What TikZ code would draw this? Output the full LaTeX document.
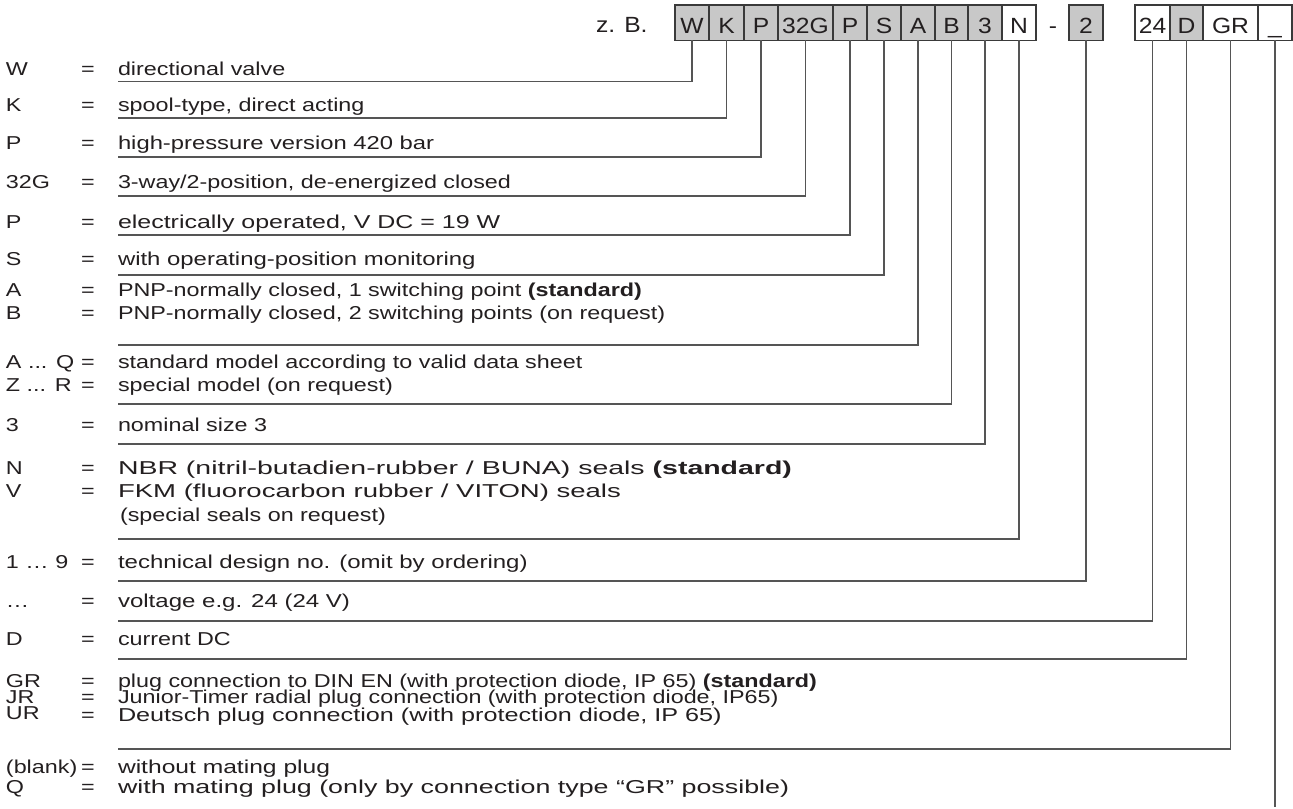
\documentclass[tikz,border=0pt]{standalone}
\usepackage{graphicx}
\usepackage{fontspec}
\setmainfont{Liberation Sans}[FakeStretch=1.25]
\newfontfamily\hdr{Liberation Sans}[FakeStretch=1.12]
\definecolor{txt}{HTML}{231F20}
\definecolor{lnc}{HTML}{555555}
\definecolor{bxc}{HTML}{3A3A3A}
\definecolor{gfill}{HTML}{C8C8C8}
\newcommand\myrow[5][1]{%
  \node[lbl] (l#2) at (6,#3) {#4};
  \node[lbl] (e#2) at (81,#3) {=};
  \node[lbl] (t#2) at (118,#3) {\scalebox{#1}[1]{#5}};}
\begin{document}
\begin{tikzpicture}[x=0.75pt,y=-0.75pt,
  every node/.style={inner sep=0pt,outer sep=0pt,text=txt},
  lbl/.style={anchor=base west,font=\fontsize{14}{16}\selectfont},
  hd/.style={font=\hdr\fontsize{16.5}{19}\selectfont},
  box/.style={hd,draw=bxc,line width=0.9pt,minimum height=26.6pt,
    text height=15.4pt,text depth=0pt,fill=white},
  gbox/.style={box,fill=gfill},
  conn/.style={draw=lnc,line width=1pt}]
\useasboundingbox (0,0) rectangle (1293,808);
% header
\node[hd,anchor=base west] (zb) at (596,32) {z. B.};
\node[gbox,minimum width=25.5pt]  (b1)  at (692,22.75)    {W};
\node[gbox,minimum width=26.25pt] (b2)  at (726.5,22.75)  {K};
\node[gbox,minimum width=25.5pt]  (b3)  at (761,22.75)    {P};
\node[gbox,minimum width=41.25pt] (b4)  at (805.5,22.75)  {32G};
\node[gbox,minimum width=25.5pt]  (b5)  at (850,22.75)    {P};
\node[gbox,minimum width=25.5pt]  (b6)  at (884,22.75)    {S};
\node[gbox,minimum width=25.5pt]  (b7)  at (918,22.75)    {A};
\node[gbox,minimum width=24.75pt] (b8)  at (951.5,22.75)  {B};
\node[gbox,minimum width=25.5pt]  (b9)  at (985,22.75)    {3};
\node[box,minimum width=25.5pt]   (b10) at (1019,22.75)   {N};
\node[hd,anchor=base] (dash) at (1053,33) {-};
\node[gbox,minimum width=25.5pt]  (b11) at (1086,22.75)   {2};
\node[box,minimum width=26.25pt]  (b12) at (1152.5,22.75) {24};
\node[gbox,minimum width=24.75pt] (b13) at (1186.5,22.75) {D};
\node[box,minimum width=41.25pt]  (b14) at (1230.5,22.75) {GR};
\node[box,minimum width=25.5pt]   (b15) at (1275,22.75)   {\textunderscore};
% rows (baseline = visual centre + 6.5)
\myrow{1}{75}{W}{directional valve}
\myrow{2}{111.5}{K}{spool-type, direct acting}
\myrow[1.02]{3}{149.5}{P}{high-pressure version 420 bar}
\myrow{4}{188.5}{32G}{3-way/2-position, de-energized closed}
\myrow[1.07]{5}{228}{P}{electrically operated, V DC = 19 W}
\myrow[1.025]{6}{265}{S}{with operating-position monitoring}
\myrow{7}{296.5}{A}{PNP-normally closed, 1 switching point \textbf{(standard)}}
\myrow{8}{319.5}{B}{PNP-normally closed, 2 switching points (on request)}
\myrow{9}{368.5}{A ... Q}{standard model according to valid data sheet}
\myrow{10}{391.5}{Z ... R}{special model (on request)}
\myrow{11}{431.5}{3}{nominal size 3}
\myrow[1.22]{12}{474.5}{N}{NBR (nitril-butadien-rubber / BUNA) seals \textbf{(standard)}}
\myrow[1.18]{13}{497.5}{V}{FKM (fluorocarbon rubber / VITON) seals}
\node[lbl] (t13b) at (120,521.5) {(special seals on request)};
\myrow[1.03]{14}{568.5}{1 … 9}{technical design no. (omit by ordering)}
\myrow[1.03]{15}{607}{…}{voltage e.g. 24 (24 V)}
\myrow{16}{645}{D}{current DC}
\myrow{17}{687}{GR}{plug connection to DIN EN (with protection diode, IP 65) \textbf{(standard)}}
\myrow{18}{703.5}{JR}{Junior-Timer radial plug connection (with protection diode, IP65)}
\node[lbl] (l19) at (6,719.5) {UR};
\node[lbl] (e19) at (81,721) {=};
\node[lbl] (t19) at (118,721) {\scalebox{1.08}[1]{Deutsch plug connection (with protection diode, IP 65)}};
\myrow[1.055]{20}{773}{(blank)}{without mating plug}
\myrow[1.15]{21}{793.5}{Q}{with mating plug (only by connection type “GR” possible)}
% connector ends
\coordinate (c1) at (118,81.7);
\coordinate (c2) at (118,118);
\coordinate (c3) at (118,157);
\coordinate (c4) at (118,196);
\coordinate (c5) at (118,235);
\coordinate (c6) at (118,275);
\coordinate (c7) at (118,345);
\coordinate (c8) at (118,404);
\coordinate (c9) at (118,444);
\coordinate (c10) at (118,539);
\coordinate (c11) at (118,581);
\coordinate (c12) at (118,621);
\coordinate (c13) at (118,659);
\coordinate (c14) at (118,749);
\coordinate (c15) at (1276,807);
\foreach \i in {1,...,14} {\draw[conn] (b\i.south) |- (c\i);}
\draw[conn] (b15.south) -- (b15.south |- c15);
\end{tikzpicture}
\end{document}
